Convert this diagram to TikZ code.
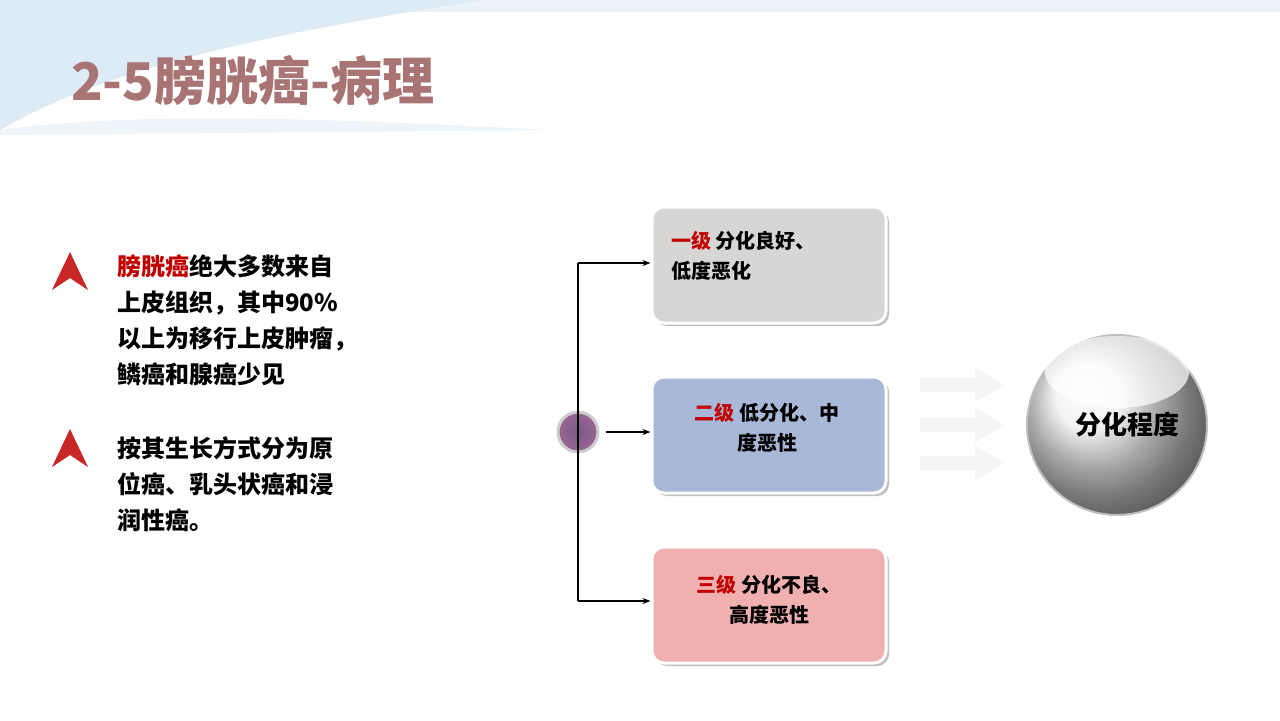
\documentclass[tikz,border=0pt]{standalone}
\usepackage{fontspec}
\setmainfont{Noto Sans CJK SC}
\newfontfamily\cjk{Noto Sans CJK SC}
\usetikzlibrary{shadows,arrows.meta}
\definecolor{titlecol}{HTML}{A87474}
\definecolor{redcol}{HTML}{C00000}
\definecolor{graybox}{HTML}{D8D5D5}
\definecolor{bluebox}{HTML}{A8B8D8}
\definecolor{pinkbox}{HTML}{F0B0B0}
\definecolor{wavecol}{HTML}{DCEBF5}
\tikzset{
  gradebox/.style={draw=white, line width=1.5pt, rounded corners=6pt, minimum width=117pt, minimum height=58pt, drop shadow={shadow xshift=1.5pt, shadow yshift=-1.5pt, opacity=0.5}},
  gradetext/.style={font=\cjk\bfseries\fontsize{10}{15}\selectfont, align=left},
  bullettext/.style={font=\cjk\bfseries\fontsize{12}{18}\selectfont, align=left, anchor=north west},
  link/.style={-{Stealth[length=4pt]}, line width=0.7pt}
}
\begin{document}
\begin{tikzpicture}[x=0.5pt,y=-0.5pt]
\useasboundingbox (0,0) rectangle (1280,720);
\fill[white] (0,0) rectangle (1280,720);
% top decoration
\fill[wavecol!60] (0,0) rectangle (1280,12);
\fill[wavecol] (0,0) -- (480,0) .. controls (300,30) and (120,60) .. (0,130) -- cycle;
\fill[wavecol!50] (0,130) .. controls (150,110) and (350,120) .. (550,130) -- (0,135) -- cycle;
\node[font=\cjk\bfseries\fontsize{26}{26}\selectfont, text=titlecol, anchor=west] (title) at (64,80) {2-5膀胱癌-病理};

% left bullets
\fill[redcol!85] (70,252) -- (88,290) -- (70,278) -- (52,290) -- cycle;
\fill[redcol!85] (70,429) -- (88,467) -- (70,455) -- (52,467) -- cycle;
\node[bullettext] (txta) at (110,248) {\textcolor{redcol}{膀胱癌}绝大多数来自\\上皮组织，其中90\%\\以上为移行上皮肿瘤，\\鳞癌和腺癌少见};
\node[bullettext] (txtb) at (110,429) {按其生长方式分为原\\位癌、乳头状癌和浸\\润性癌。};

% hub
\node[circle, minimum size=20pt, draw=gray!40, line width=1.5pt, inner color=red!40!blue!30!gray, outer color=red!50!black!70!blue!60] (hub) at (578,432) {};
\node[gradebox, fill=graybox] (g1) at (769,265) {};
\node[gradebox, fill=bluebox] (g2) at (769,435) {};
\node[gradebox, fill=pinkbox] (g3) at (769,605) {};
\node[gradetext, anchor=west] at (664,256) {\textcolor{redcol}{一级}\ 分化良好、\\低度恶化};
\node[gradetext, align=center] at (767,428) {\textcolor{redcol}{二级}\ 低分化、中\\度恶性};
\node[gradetext, align=center] at (769,600) {\textcolor{redcol}{三级}\ 分化不良、\\高度恶性};
\coordinate (top) at (578,263);
\coordinate (bot) at (578,601);
\draw[line width=0.7pt] (top) -- (bot);
\draw[link] (top) -- (g1.west |- top);
\draw[link] (bot) -- (g3.west |- bot);
\draw[link] (hub.east) ++(6,0) -- (g2.west |- hub);

% faded arrows
\foreach \yy in {385,425,463}
  \fill[gray!8] (920,\yy-7) -- (975,\yy-7) -- (975,\yy-17) -- (1005,\yy) -- (975,\yy+17) -- (975,\yy+7) -- (920,\yy+7) -- cycle;

% sphere
\shade[ball color=gray!12] (1117,425) circle[radius=90];
\draw[gray!50, line width=1pt] (1117,425) circle[radius=90];
\fill[white, opacity=0.7] (1117,372) ellipse[x radius=72, y radius=36];
\node[font=\cjk\bfseries\fontsize{13}{13}\selectfont] (deg) at (1127,425) {分化程度};
\end{tikzpicture}
\end{document}
